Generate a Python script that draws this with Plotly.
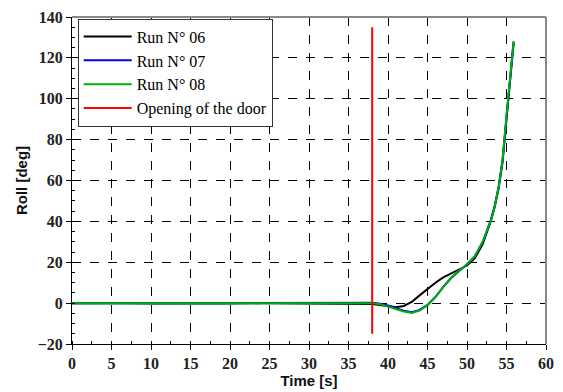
import plotly.graph_objects as go

# ---- data ----
t_pre = list(range(0, 38))
run06_pre = [0.0, -0.1, 0.0, 0.0, 0.1, 0.0, -0.1, -0.1, -0.2, -0.2, -0.2, -0.2, -0.1, -0.1, -0.2, -0.2,
             -0.1, -0.1, -0.1, -0.1, -0.2, -0.1, -0.1, -0.1, -0.1, -0.1, -0.1, -0.1, -0.1, -0.1,
             -0.1, -0.1, -0.1, -0.1, -0.2, -0.2, -0.3, -0.4]
run07_pre = [0.0, 0.0, 0.0, 0.0, 0.0, 0.0, 0.1, 0.2, 0.2, 0.1, 0.0, 0.0, 0.0, 0.0, 0.0, 0.1,
             0.2, 0.2, 0.2, 0.2, 0.2, 0.2, 0.2, 0.2, 0.2, 0.2, 0.2, 0.2, 0.2, 0.2,
             0.1, 0.0, 0.0, 0.0, 0.2, 0.2, 0.2, 0.2]
run08_pre = [0.0, 0.0, 0.0, -0.1, -0.1, -0.1, -0.1, -0.1, -0.1, -0.1, -0.1, -0.1, -0.1, -0.1, -0.1, -0.1,
             -0.1, -0.1, -0.1, -0.1, -0.1, -0.1, -0.1, -0.1, -0.1, -0.1, -0.1, -0.1, -0.1, -0.1,
             -0.1, -0.1, -0.1, -0.1, 0.0, 0.1, 0.1, 0.1]

t_post = [38, 39, 40, 41, 42, 43, 44, 45, 46, 47, 48, 49, 50, 51, 52, 53, 53.5, 54, 54.5, 55, 55.5, 55.9]
run06_post = [-0.4, -0.9, -1.6, -2.0, -1.4, 0.6, 3.8, 7.0, 10.0, 12.6, 14.5, 16.3, 18.4, 22.0, 29.0, 40.0,
              47.0, 56.0, 69.0, 90.0, 110.0, 128.0]
run07_post = [0.2, -0.3, -1.2, -2.5, -3.7, -4.4, -3.3, -0.9, 3.0, 8.0, 12.3, 15.7, 19.0, 23.0, 30.0, 40.5,
              47.5, 57.0, 70.0, 91.0, 110.0, 127.0]
run08_post = [0.0, -0.5, -1.6, -2.9, -4.1, -4.8, -3.6, -1.0, 3.0, 8.0, 12.5, 15.8, 19.0, 23.0, 30.2, 40.0,
              47.0, 56.5, 70.0, 92.0, 111.0, 128.0]

door_time = [38, 38]
door_roll = [-15, 135]

series_names = ["Run N° 06", "Run N° 07", "Run N° 08"]
series_colors = ["#000000", "#0000ff", "#00b000"]

t_all = t_pre + t_post
runs = [run06_pre + run06_post, run07_pre + run07_post, run08_pre + run08_post]

fig = go.Figure()
for name, color, y in zip(series_names, series_colors, runs):
    fig.add_trace(go.Scatter(x=t_all, y=y, mode="lines", name=name,
                             line=dict(color=color, width=2)))
fig.add_trace(go.Scatter(x=door_time, y=door_roll, mode="lines", name="Opening of the door",
                         line=dict(color="#ff0000", width=2)))

tickfont = dict(family="Liberation Serif", size=16, color="#222222", weight="bold")
titlefont = dict(family="Liberation Sans", size=15, color="#111111", weight="bold")

# the page body adds an 8px offset, so the figure is sized to fit the window minus it
fig.update_layout(
    width=555, height=384,
    margin=dict(l=64, r=17, t=9, b=48),
    paper_bgcolor="white", plot_bgcolor="white",
    showlegend=True,
    legend=dict(x=0.012, y=0.995, xanchor="left", yanchor="top",
                bgcolor="white", bordercolor="#333333", borderwidth=1,
                font=dict(family="Liberation Serif", size=16, color="#000000"),
                itemwidth=48, tracegroupgap=0),
    xaxis=dict(range=[0, 60], dtick=5, tick0=0, automargin=False,
               showgrid=True, gridcolor="#000000", gridwidth=1, griddash="dash",
               zeroline=False, showline=True, linecolor="#000000", linewidth=1,
               ticks="outside", ticklen=5, tickcolor="#000000",
               minor=dict(ticks="inside", dtick=2.5, ticklen=3, tickcolor="#000000", showgrid=False),
               tickfont=tickfont, ticklabeloverflow="allow",
               title=dict(text="Time [s]", font=titlefont, standoff=2)),
    yaxis=dict(range=[-20, 140], dtick=20, tick0=0, automargin=False,
               showgrid=True, gridcolor="#000000", gridwidth=1, griddash="dash",
               zeroline=False, showline=True, linecolor="#000000", linewidth=1,
               ticks="outside", ticklen=5, tickcolor="#000000",
               minor=dict(ticks="inside", dtick=5, ticklen=3, tickcolor="#000000", showgrid=False),
               tickfont=tickfont, ticklabeloverflow="allow",
               title=dict(text="Roll [deg]", font=titlefont, standoff=6)),
    shapes=[
        dict(type="line", xref="paper", yref="paper", x0=0, x1=1, y0=1, y1=1,
             line=dict(color="#888888", width=2)),
        dict(type="line", xref="paper", yref="paper", x0=1, x1=1, y0=0, y1=1,
             line=dict(color="#888888", width=2)),
    ],
)

fig.write_html("out.html")
